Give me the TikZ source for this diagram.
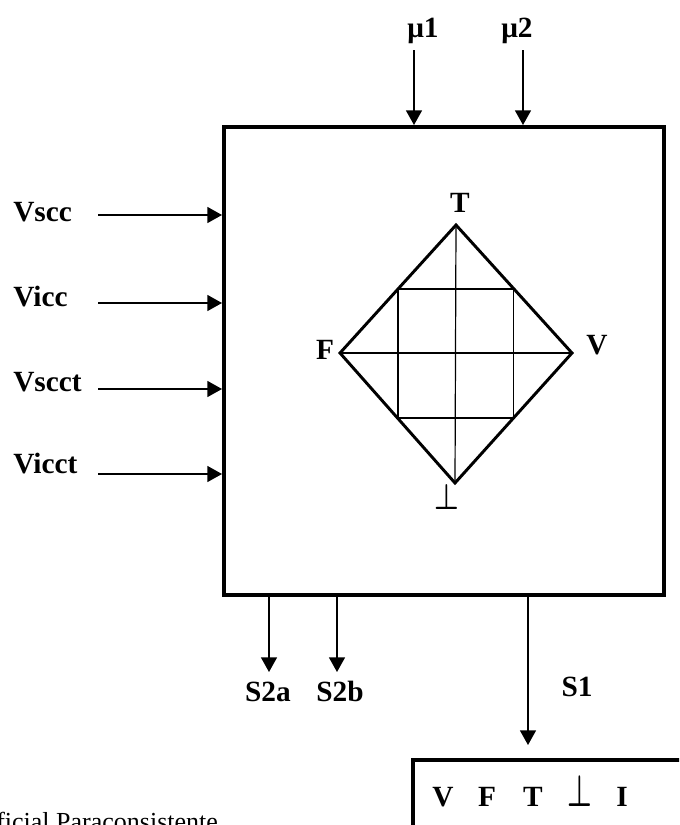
\documentclass[tikz,border=0pt]{standalone}
\usepackage{fontspec}
\usepackage{amsmath}
\setmainfont{Liberation Serif}
\usetikzlibrary{arrows.meta,calc}
\newcommand{\botsym}[1]{\scalebox{1}[#1]{$\boldsymbol{\bot}$}}
\tikzset{
    lbl/.style={font=\fontsize{22}{24}\selectfont\bfseries, inner sep=0pt, text height=0.66em, text depth=0pt, yshift=-3.75pt},
    arr/.style={line width=1.1pt, -{Triangle[length=11pt,width=12pt]}},
    frame/.style={draw, line width=3pt, inner sep=0pt},
}
\begin{document}
\begin{tikzpicture}[x=0.75pt,y=-0.75pt]
    \useasboundingbox (0,0) rectangle (679,825);
    \clip (0,0) rectangle (679,825);
    % bloco
    \node [frame, minimum width=330pt, minimum height=351pt] (lpa) at (444,361) {};
    % entradas mu
    \node [lbl] (mu1) at (423,28) {μ1};
    \node [lbl] (mu2) at (517,28) {μ2};
    \coordinate (mu1 tail) at (414,50);
    \coordinate (mu2 tail) at (523,50);
    \draw [arr] (mu1 tail) -- (mu1 tail |- lpa.north);
    \draw [arr] (mu2 tail) -- (mu2 tail |- lpa.north);
    % entradas de controle
    \node [lbl, anchor=west] (vscc) at (13,212) {Vscc};
    \node [lbl, anchor=west] (vicc) at (13,297) {Vicc};
    \node [lbl, anchor=west] (vscct) at (13,382) {Vscct};
    \node [lbl, anchor=west] (vicct) at (13,464) {Vicct};
    \coordinate (vscc tail) at (98,215);
    \coordinate (vicc tail) at (98,303);
    \coordinate (vscct tail) at (98,389);
    \coordinate (vicct tail) at (98,474);
    \draw [arr] (vscc tail) -- (vscc tail -| lpa.west);
    \draw [arr] (vicc tail) -- (vicc tail -| lpa.west);
    \draw [arr] (vscct tail) -- (vscct tail -| lpa.west);
    \draw [arr] (vicct tail) -- (vicct tail -| lpa.west);
    % reticulado
    \coordinate (dT) at (456,225);
    \coordinate (dV) at (572,353);
    \coordinate (dB) at (455,483);
    \coordinate (dF) at (340,353);
    \draw [line width=2.2pt, line join=miter] (dT) -- (dV) -- (dB) -- (dF) -- cycle;
    \draw [line width=0.9pt] (dT) -- (dB);
    \draw [line width=0.9pt] (dF) -- (dV);
    \draw [line width=0.9pt] ($(dT)!0.5!(dF)$) rectangle ($(dV)!0.5!(dB)$);
    \node [lbl] (tT) at (460,203) {T};
    \node [lbl] (tF) at (325,350) {F};
    \node [lbl] (tV) at (597,345) {V};
    \node [lbl] (tB) at (447,500) {\botsym{1.3}};
    % saidas
    \coordinate (s2a tip) at (269,672);
    \coordinate (s2b tip) at (337,672);
    \coordinate (s1 tip) at (528,745);
    \draw [arr] (s2a tip |- lpa.south) -- (s2a tip);
    \draw [arr] (s2b tip |- lpa.south) -- (s2b tip);
    \draw [arr] (s1 tip |- lpa.south) -- (s1 tip);
    \node [lbl] (s2a) at (268,692) {S2a};
    \node [lbl] (s2b) at (340,692) {S2b};
    \node [lbl] (s1) at (577,687) {S1};
    % estados de saida
    \node [frame, anchor=north west, minimum width=300pt, minimum height=100pt] (vals) at (411,758) {};
    \node [lbl] (oV) at (443,797) {V};
    \node [lbl] (oF) at (487,797) {F};
    \node [lbl] (oT) at (533,797) {T};
    \node [lbl] (oB) at (580,797) {\botsym{1.6}};
    \node [lbl] (oI) at (622,797) {I};
    % rodape
    \node [anchor=base west, inner sep=0pt, font=\fontsize{19.5}{22}\selectfont] (rodape) at (-4,830) {ficial Paraconsistente};
\end{tikzpicture}
\end{document}
